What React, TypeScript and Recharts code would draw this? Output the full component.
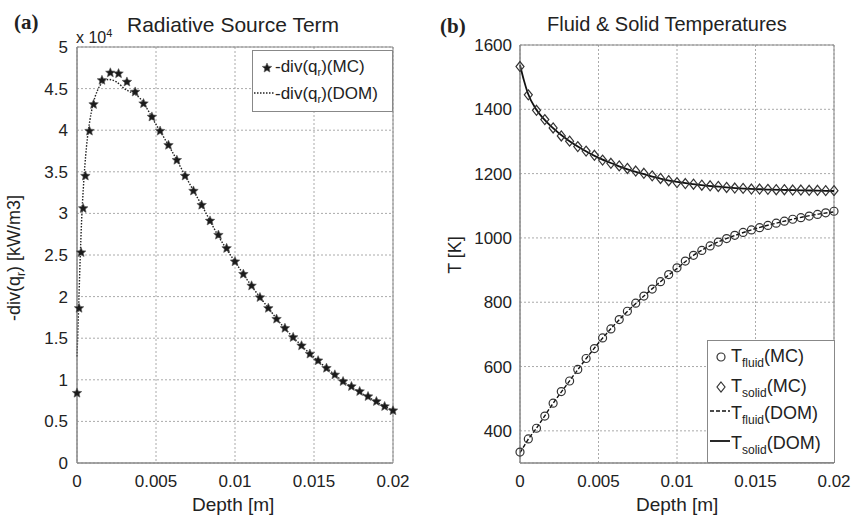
import {
  CartesianGrid,
  ComposedChart,
  Line,
  ReferenceArea,
  Scatter,
  XAxis,
  YAxis,
} from "recharts";

// panel (a): radiative source term, values in units of 1e4 kW/m3
const mcDepthA = [
  0, 0.00013, 0.00026, 0.00039, 0.00053, 0.00079, 0.00105, 0.00158, 0.00211,
  0.00263, 0.00316, 0.00368, 0.00421, 0.00474, 0.00526, 0.00579, 0.00632,
  0.00684, 0.00737, 0.00789, 0.00842, 0.00895, 0.00947, 0.01, 0.01053,
  0.01105, 0.01158, 0.01211, 0.01263, 0.01316, 0.01368, 0.01421, 0.01474,
  0.01526, 0.01579, 0.01632, 0.01684, 0.01737, 0.01789, 0.01842, 0.01895,
  0.01947, 0.02,
];
const mcSource = [
  0.84, 1.86, 2.53, 3.06, 3.45, 3.99, 4.31, 4.6, 4.69, 4.68, 4.58, 4.46, 4.32,
  4.16, 3.99, 3.82, 3.64, 3.45, 3.27, 3.1, 2.91, 2.74, 2.58, 2.42, 2.27, 2.13,
  1.99, 1.86, 1.73, 1.62, 1.51, 1.41, 1.31, 1.23, 1.14, 1.06, 0.98, 0.92, 0.86,
  0.8, 0.74, 0.68, 0.63,
];
const domDepthA = [
  0, 0.0001, 0.0002, 0.0003, 0.0004, 0.0006, 0.0008, 0.001, 0.0013, 0.0016,
  0.002, 0.0025, 0.003, 0.004, 0.005, 0.006, 0.007, 0.008, 0.009, 0.01, 0.011,
  0.012, 0.013, 0.014, 0.015, 0.016, 0.017, 0.018, 0.019, 0.02,
];
const domSource = [
  1.28, 1.85, 2.45, 2.95, 3.3, 3.8, 4.1, 4.3, 4.48, 4.57, 4.61, 4.58, 4.5,
  4.38, 4.07, 3.75, 3.4, 3.06, 2.71, 2.42, 2.14, 1.89, 1.65, 1.45, 1.27, 1.11,
  0.96, 0.84, 0.73, 0.63,
];

// panel (b): fluid & solid temperatures [K]
const mcDepthB = [
  0, 0.00053, 0.00105, 0.00158, 0.00211, 0.00263, 0.00316, 0.00368, 0.00421,
  0.00474, 0.00526, 0.00579, 0.00632, 0.00684, 0.00737, 0.00789, 0.00842,
  0.00895, 0.00947, 0.01, 0.01053, 0.01105, 0.01158, 0.01211, 0.01263,
  0.01316, 0.01368, 0.01421, 0.01474, 0.01526, 0.01579, 0.01632, 0.01684,
  0.01737, 0.01789, 0.01842, 0.01895, 0.01947, 0.02,
];
const mcFluid = [
  334, 375, 408, 446, 486, 522, 555, 591, 625, 656, 689, 717, 746, 772, 797,
  819, 841, 864, 886, 907, 928, 946, 961, 975, 987, 998, 1008, 1017, 1025,
  1032, 1039, 1046, 1052, 1058, 1063, 1068, 1073, 1078, 1083,
];
const mcSolid = [
  1533, 1445, 1397, 1368, 1342, 1317, 1301, 1284, 1270, 1257, 1242, 1232,
  1224, 1216, 1208, 1201, 1193, 1185, 1178, 1172, 1169, 1167, 1164, 1162,
  1160, 1157, 1155, 1154, 1152, 1152, 1151, 1150, 1150, 1149, 1149, 1148,
  1148, 1147, 1147,
];
const domDepthB = [
  0, 0.00025, 0.0005, 0.001, 0.0015, 0.002, 0.003, 0.004, 0.005, 0.006, 0.007,
  0.008, 0.009, 0.01, 0.011, 0.012, 0.013, 0.014, 0.015, 0.016, 0.017, 0.018,
  0.019, 0.02,
];
const domFluid = [
  332, 352, 372, 405, 441, 478, 545, 611, 673, 729, 779, 824, 866, 905, 944,
  973, 995, 1013, 1029, 1042, 1054, 1065, 1074, 1081,
];
const domSolid = [
  1538, 1490, 1450, 1402, 1371, 1346, 1306, 1275, 1249, 1229, 1211, 1197,
  1184, 1174, 1167, 1162, 1158, 1154, 1152, 1150, 1149, 1148, 1147, 1146,
];

const depthTicks = [0, 0.005, 0.01, 0.015, 0.02];
const sourceTicks = [0, 0.5, 1, 1.5, 2, 2.5, 3, 3.5, 4, 4.5, 5];
const tempTicks = [400, 600, 800, 1000, 1200, 1400, 1600];

const pts = (xs: number[], ys: number[]) =>
  xs.map((x, i) => ({ x, y: ys[i] }));

const FONT = "'Liberation Sans', Arial, sans-serif";
const tickStyle = { fontSize: 17, fill: "#222", fontFamily: FONT };

function StarDot(props: any) {
  const { cx, cy } = props;
  if (cx == null || cy == null) return null;
  const p: string[] = [];
  for (let k = 0; k < 10; k++) {
    const r = k % 2 === 0 ? 5 : 2.3;
    const a = -Math.PI / 2 + (k * Math.PI) / 5;
    p.push(`${cx + r * Math.cos(a)},${cy + r * Math.sin(a)}`);
  }
  return <polygon points={p.join(" ")} fill="#1b1b1b" stroke="#555" strokeWidth={0.6} />;
}

function CircleDot(props: any) {
  const { cx, cy } = props;
  if (cx == null || cy == null) return null;
  return <circle cx={cx} cy={cy} r={4} fill="none" stroke="#333" strokeWidth={1.2} />;
}

function DiamondDot(props: any) {
  const { cx, cy } = props;
  if (cx == null || cy == null) return null;
  return (
    <polygon
      points={`${cx},${cy - 5} ${cx + 4},${cy} ${cx},${cy + 5} ${cx - 4},${cy}`}
      fill="none"
      stroke="#333"
      strokeWidth={1.2}
    />
  );
}

const abs = (left: number, top: number, extra: object = {}) =>
  ({ position: "absolute", left, top, fontFamily: FONT, color: "#222", whiteSpace: "nowrap", lineHeight: 1, ...extra }) as const;

export default function App() {
  return (
    <div style={{ position: "absolute", left: 0, top: 0, width: 854, height: 518, background: "#fff", overflow: "hidden" }}>
      {/* (a) */}
      <div style={{ position: "absolute", left: 0, top: 0 }}>
        <ComposedChart width={420} height={518} margin={{ top: 47, right: 27, bottom: 25, left: 0 }}>
          <CartesianGrid strokeDasharray="2 2" stroke="#aaa" />
          <XAxis
            dataKey="x"
            type="number"
            domain={[0, 0.02]}
            ticks={depthTicks}
            height={30}
            tickSize={0}
            tickMargin={12}
            tick={tickStyle}
            axisLine={{ stroke: "#888" }}
          />
          <YAxis
            type="number"
            domain={[0, 5]}
            ticks={sourceTicks}
            width={77}
            tickSize={0}
            tickMargin={9}
            tick={tickStyle}
            axisLine={{ stroke: "#888" }}
          />
          <ReferenceArea x1={0} x2={0.02} y1={0} y2={5} fill="none" stroke="#888" />
          <Scatter data={pts(mcDepthA, mcSource)} dataKey="y" shape={StarDot} isAnimationActive={false} />
          <Line
            data={pts(domDepthA, domSource)}
            dataKey="y"
            type="monotone"
            dot={false}
            stroke="#222"
            strokeWidth={1.4}
            strokeDasharray="1.5 1.5"
            isAnimationActive={false}
          />
        </ComposedChart>
      </div>

      {/* (b) */}
      <div style={{ position: "absolute", left: 430, top: 0 }}>
        <ComposedChart width={424} height={518} margin={{ top: 45, right: 20, bottom: 25, left: 0 }}>
          <CartesianGrid strokeDasharray="2 2" stroke="#aaa" />
          <XAxis
            dataKey="x"
            type="number"
            domain={[0, 0.02]}
            ticks={depthTicks}
            height={30}
            tickSize={0}
            tickMargin={12}
            tick={tickStyle}
            axisLine={{ stroke: "#888" }}
          />
          <YAxis
            type="number"
            domain={[300, 1600]}
            ticks={tempTicks}
            width={90}
            tickSize={0}
            tickMargin={8}
            tick={tickStyle}
            axisLine={{ stroke: "#888" }}
          />
          <ReferenceArea x1={0} x2={0.02} y1={300} y2={1600} fill="none" stroke="#888" />
          <Scatter data={pts(mcDepthB, mcFluid)} dataKey="y" shape={CircleDot} isAnimationActive={false} />
          <Scatter data={pts(mcDepthB, mcSolid)} dataKey="y" shape={DiamondDot} isAnimationActive={false} />
          <Line
            data={pts(domDepthB, domFluid)}
            dataKey="y"
            type="monotone"
            dot={false}
            stroke="#111"
            strokeWidth={1.4}
            strokeDasharray="4 2"
            isAnimationActive={false}
          />
          <Line
            data={pts(domDepthB, domSolid)}
            dataKey="y"
            type="monotone"
            dot={false}
            stroke="#111"
            strokeWidth={1.8}
            isAnimationActive={false}
          />
        </ComposedChart>
      </div>

      {/* titles and labels */}
      <div style={abs(14, 12, { fontFamily: "'Liberation Serif', serif", fontWeight: 700, fontSize: 21 })}>(a)</div>
      <div style={abs(440, 16, { fontFamily: "'Liberation Serif', serif", fontWeight: 700, fontSize: 21 })}>(b)</div>
      <div style={abs(127, 14, { fontSize: 21 })}>Radiative Source Term</div>
      <div style={abs(76, 28, { fontSize: 16 })}>
        x 10<sup style={{ fontSize: 11 }}>4</sup>
      </div>
      <div style={abs(547, 14, { fontSize: 20 })}>Fluid &amp; Solid Temperatures</div>
      <div style={abs(192, 495, { fontSize: 19 })}>Depth [m]</div>
      <div style={abs(636, 495, { fontSize: 19 })}>Depth [m]</div>
      <div style={abs(16, 258, { fontSize: 18, transform: "translate(-50%, -50%) rotate(-90deg)" })}>
        -div(q<sub style={{ fontSize: 12 }}>r</sub>) [kW/m3]
      </div>
      <div style={abs(455, 255, { fontSize: 18, transform: "translate(-50%, -50%) rotate(-90deg)" })}>T [K]</div>

      {/* legend (a) */}
      <div style={abs(252, 50, { width: 141, height: 62, border: "1px solid #888", background: "#fff", boxSizing: "border-box", fontSize: 17 })}>
        <svg width={20} height={14} style={{ position: "absolute", left: 4, top: 10 }}>
          <StarDot cx={10} cy={7} />
        </svg>
        <div style={{ position: "absolute", left: 22, top: 7 }}>
          -div(q<sub style={{ fontSize: 11 }}>r</sub>)(MC)
        </div>
        <svg width={22} height={6} style={{ position: "absolute", left: 0, top: 39 }}>
          <line x1={1} y1={3} x2={21} y2={3} stroke="#222" strokeWidth={1.4} strokeDasharray="1.5 1.5" />
        </svg>
        <div style={{ position: "absolute", left: 22, top: 34 }}>
          -div(q<sub style={{ fontSize: 11 }}>r</sub>)(DOM)
        </div>
      </div>

      {/* legend (b) */}
      <div style={abs(707, 340, { width: 128, height: 123, border: "1px solid #888", background: "#fff", boxSizing: "border-box", fontSize: 18 })}>
        <svg width={20} height={14} style={{ position: "absolute", left: 3, top: 9 }}>
          <CircleDot cx={10} cy={7} />
        </svg>
        <div style={{ position: "absolute", left: 23, top: 6 }}>
          T<sub style={{ fontSize: 12 }}>fluid</sub>(MC)
        </div>
        <svg width={20} height={14} style={{ position: "absolute", left: 3, top: 39 }}>
          <DiamondDot cx={10} cy={7} />
        </svg>
        <div style={{ position: "absolute", left: 23, top: 36 }}>
          T<sub style={{ fontSize: 12 }}>solid</sub>(MC)
        </div>
        <svg width={22} height={6} style={{ position: "absolute", left: 1, top: 67 }}>
          <line x1={1} y1={3} x2={21} y2={3} stroke="#111" strokeWidth={1.4} strokeDasharray="4 2" />
        </svg>
        <div style={{ position: "absolute", left: 23, top: 63 }}>
          T<sub style={{ fontSize: 12 }}>fluid</sub>(DOM)
        </div>
        <svg width={22} height={6} style={{ position: "absolute", left: 1, top: 97 }}>
          <line x1={1} y1={3} x2={21} y2={3} stroke="#111" strokeWidth={1.8} />
        </svg>
        <div style={{ position: "absolute", left: 23, top: 93 }}>
          T<sub style={{ fontSize: 12 }}>solid</sub>(DOM)
        </div>
      </div>
    </div>
  );
}
